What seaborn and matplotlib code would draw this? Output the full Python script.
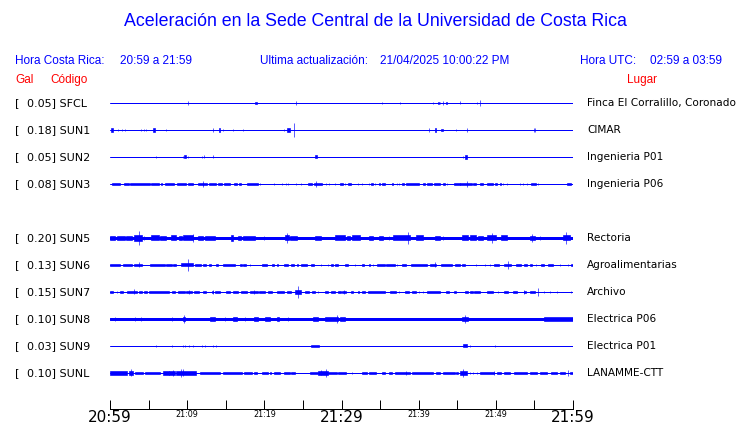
import matplotlib
matplotlib.use("Agg")
import matplotlib.pyplot as plt
import seaborn as sns
import pandas as pd
import numpy as np

# stations, top to bottom (slot 4 is empty: SUN4 not reporting)
stations = ["SFCL", "SUN1", "SUN2", "SUN3", "SUN5", "SUN6", "SUN7", "SUN8", "SUN9", "SUNL"]
slots = [0, 1, 2, 3, 5, 6, 7, 8, 9, 10]
gal = [0.05, 0.18, 0.05, 0.08, 0.20, 0.13, 0.15, 0.10, 0.03, 0.10]
places = ["Finca El Corralillo, Coronado", "CIMAR", "Ingenieria P01", "Ingenieria P06",
          "Rectoria", "Agroalimentarias", "Archivo", "Electrica P06", "Electrica P01",
          "LANAMME-CTT"]
# background noise half-width of each trace
base_noise = [0.5, 0.5, 0.5, 0.5, 1.5, 0.5, 0.5, 1.5, 0.5, 0.5]

# time axis (minutes after 20:59)
tick_minutes = list(range(0, 61, 5))
tick_labels = {0: "20:59", 10: "21:09", 20: "21:19", 30: "21:29", 40: "21:39", 50: "21:49", 60: "21:59"}

# bursts: (start minute, end minute, half amplitude)
sfcl = [(10.1, 10.1, 1.7), (18.8, 19.0, 1.3), (24.1, 24.1, 1.7), (35.3, 35.3, 1), (37.6, 37.6, 1),
        (41.8, 41.8, 1), (42.5, 42.6, 1.3), (42.8, 42.8, 1.3), (43.2, 43.2, 1.7), (43.6, 43.7, 1.3),
        (45.3, 45.3, 1.5), (47.5, 47.5, 1.3), (47.9, 47.9, 2.7)]
sun1 = [(0.1, 0.4, 2.3), (1.1, 1.1, 1), (1.6, 1.6, 1.3), (1.9, 1.9, 1.3), (4.0, 4.0, 1.3), (4.4, 4.4, 1),
        (4.7, 4.7, 1), (5.6, 5.8, 1.7), (7.3, 7.3, 1), (13.4, 13.4, 1.7), (14.1, 14.3, 1.7), (14.7, 14.7, 1),
        (15.9, 15.9, 1.3), (17.3, 17.3, 1.3), (22.6, 22.6, 1.3), (22.9, 23.3, 1.7), (23.8, 23.8, 7),
        (41.4, 41.4, 1.7), (42.1, 42.3, 1.7), (42.9, 43.1, 1.3), (44.9, 44.9, 1), (46.3, 46.3, 1.7),
        (54.9, 54.9, 1.7), (55.1, 55.1, 1.7)]
sun2 = [(6.0, 6.0, 1), (9.4, 9.4, 1), (9.6, 9.8, 1.5), (10.1, 10.1, 1), (11.9, 11.9, 1), (12.2, 12.2, 1.5),
        (13.4, 13.4, 1.5), (26.6, 26.8, 1.5), (45.7, 45.7, 1), (46.0, 46.2, 2)]
sun3 = [(0.2, 1.3, 1.3), (1.8, 2.5, 1.3), (2.6, 5.2, 1.3), (5.3, 6.3, 1.3), (6.6, 6.8, 1.3), (7.1, 8.3, 1.3),
        (8.7, 9.9, 1.3), (10.1, 10.8, 1.3), (11.4, 12.0, 1.3), (12.1, 12.6, 1.3), (12.1, 12.1, 3),
        (12.8, 13.8, 1.3), (14.0, 14.5, 1.3), (14.8, 15.6, 1.3), (16.1, 16.5, 1.3), (16.7, 17.0, 1.3),
        (17.7, 19.2, 1.3), (19.5, 19.5, 1.3), (21.3, 21.3, 1), (22.3, 22.3, 1.3), (22.8, 22.8, 1.3),
        (23.1, 23.1, 1.3), (24.1, 24.1, 1.3), (24.8, 24.8, 1.3), (25.7, 26.2, 1.3), (26.5, 27.5, 1.3),
        (26.7, 26.7, 2.7), (28.0, 28.0, 1.3), (28.4, 28.4, 1.3), (29.1, 29.1, 1.3), (29.8, 30.2, 1.3),
        (30.5, 30.5, 1.3), (30.9, 31.2, 1.3), (32.2, 32.2, 1.3), (32.6, 32.6, 1.3), (33.5, 33.5, 1.3),
        (33.8, 34.1, 1.3), (34.4, 34.4, 1.3), (34.8, 35.0, 1.3), (35.3, 35.6, 1.3), (36.5, 36.7, 1.3),
        (37.2, 37.2, 1.3), (37.5, 37.5, 1.3), (37.8, 38.1, 1.3), (38.4, 40.0, 1.3), (40.5, 40.8, 1.3),
        (41.1, 41.7, 1.3), (42.0, 42.8, 1.3), (43.2, 43.4, 1.3), (43.7, 43.7, 1.3), (44.6, 45.4, 1.3),
        (45.4, 46.9, 1.3), (46.2, 46.2, 3.3), (47.1, 47.4, 1.3), (47.9, 48.4, 1.3), (48.9, 49.6, 1.3),
        (49.9, 50.1, 1.3), (50.5, 50.7, 1.3), (50.9, 50.9, 1.3), (51.5, 51.5, 1), (53.1, 53.1, 1),
        (53.5, 53.5, 1.3), (54.0, 54.0, 1), (54.6, 55.2, 1.3), (55.4, 55.5, 1.3), (59.2, 59.7, 1.3),
        (60.0, 60.0, 1)]
sun5 = [(0.0, 0.6, 2.3), (0.9, 1.9, 2), (2.1, 2.8, 2), (3.1, 4.1, 2.7), (3.8, 3.8, 7), (4.4, 4.4, 2.3),
        (5.3, 6.3, 2.5), (6.5, 7.3, 2), (7.9, 8.5, 2.5), (8.9, 9.3, 2), (9.5, 10.8, 2.5), (10.7, 10.7, 4),
        (11.4, 12.1, 2), (12.3, 13.6, 2), (15.7, 16.0, 2.7), (16.6, 17.0, 2), (17.3, 18.8, 2), (20.0, 20.0, 2.3),
        (22.7, 23.2, 2.5), (22.9, 22.9, 5), (23.3, 24.2, 2.3), (26.6, 27.4, 2.3), (29.2, 30.5, 2.5),
        (30.7, 31.1, 2.3), (31.4, 32.4, 2.5), (33.6, 34.1, 2.3), (34.9, 35.4, 2.3), (36.1, 36.1, 2.3),
        (36.7, 38.9, 2.5), (38.6, 38.6, 6), (39.7, 40.6, 2.5), (42.1, 42.8, 2.3), (43.2, 43.2, 2.3),
        (45.6, 46.4, 2.5), (46.7, 47.4, 2.5), (47.7, 48.4, 2.3), (48.8, 50.0, 2.5), (49.5, 49.5, 5),
        (50.7, 51.4, 2.5), (54.4, 55.1, 2.3), (54.7, 54.7, 4), (55.7, 55.7, 2.3), (58.7, 59.6, 2.5),
        (59.1, 59.1, 6)]
sun6 = [(0.0, 1.3, 1.3), (1.7, 2.8, 1.3), (3.1, 4.1, 1.3), (3.8, 3.8, 2.5), (5.2, 7.1, 1.3), (7.3, 8.0, 1.3),
        (8.2, 8.5, 1.3), (9.2, 10.7, 1.5), (10.1, 10.1, 6), (11.0, 11.8, 1.3), (12.0, 12.5, 1.3),
        (12.8, 13.1, 1.3), (13.8, 14.0, 1.3), (14.7, 16.2, 1.3), (16.8, 17.1, 1.3), (17.3, 17.6, 1.3),
        (18.1, 18.2, 1.3), (19.7, 20.3, 1.3), (21.0, 21.2, 1.3), (21.6, 21.8, 1.3), (22.5, 23.1, 1.3),
        (23.5, 23.8, 1.3), (24.2, 24.4, 1.3), (24.8, 25.5, 1.3), (26.1, 26.5, 1.3), (27.4, 27.4, 1.3),
        (28.3, 28.3, 1.3), (28.7, 28.9, 1.3), (29.2, 29.6, 1.3), (30.5, 30.9, 1.3), (31.7, 31.7, 1.3),
        (32.6, 32.9, 1.3), (33.5, 33.7, 1.3), (34.1, 34.1, 1.3), (34.6, 35.6, 1.3), (35.8, 36.9, 1.3),
        (37.2, 37.2, 1.3), (37.8, 38.4, 1.3), (39.0, 41.1, 1.3), (41.5, 42.3, 1.3), (42.1, 42.1, 2.5),
        (42.9, 44.3, 1.3), (44.7, 45.3, 1.3), (45.6, 46.0, 1.3), (47.4, 47.4, 1), (48.6, 48.6, 1),
        (49.2, 49.2, 1.3), (49.8, 50.4, 1.3), (51.1, 52.0, 1.3), (51.6, 51.6, 4), (52.6, 53.3, 1.3),
        (53.7, 54.0, 1.3), (54.4, 54.7, 1.3), (55.2, 55.2, 1.3), (55.9, 56.2, 1.3), (56.7, 57.4, 1.3),
        (58.3, 58.3, 1.3), (59.3, 59.3, 1.3), (59.8, 60.0, 1.3)]
sun7 = [(0.0, 0.4, 1.3), (0.9, 0.9, 1.3), (1.3, 1.7, 1.3), (2.2, 3.5, 1.3), (3.1, 3.1, 2.5), (3.8, 4.2, 1.3),
        (4.4, 4.8, 1.3), (5.1, 7.6, 1.3), (8.0, 8.4, 1.3), (8.8, 9.7, 1.3), (9.8, 10.6, 1.3), (10.2, 10.2, 2),
        (10.9, 11.5, 1.3), (12.0, 12.5, 1.3), (13.2, 13.4, 1.3), (13.3, 13.3, 2), (13.6, 14.3, 1.3),
        (15.0, 15.6, 1.3), (16.0, 16.6, 1.3), (17.0, 17.7, 1.3), (18.1, 19.2, 1.3), (18.6, 18.6, 2),
        (19.3, 20.1, 1.3), (20.5, 21.0, 1.3), (21.6, 22.5, 1.3), (22.9, 23.5, 1.3), (24.0, 24.8, 1.7),
        (24.4, 24.4, 6), (25.3, 25.8, 1.3), (26.2, 26.6, 1.3), (27.0, 27.0, 1.3), (27.9, 28.2, 1.3),
        (28.6, 29.2, 1.3), (29.6, 29.9, 1.3), (30.0, 30.6, 1.3), (30.3, 30.3, 2), (31.2, 31.5, 1.3),
        (32.1, 32.3, 1.3), (32.6, 33.0, 1.3), (33.4, 35.6, 1.3), (36.3, 37.1, 1.3), (37.5, 37.5, 1.3),
        (38.2, 38.8, 1.3), (39.1, 39.7, 1.3), (40.0, 40.0, 1.3), (40.6, 40.6, 1.3), (41.1, 42.8, 1.3),
        (43.5, 43.9, 1.3), (44.6, 44.9, 1.3), (46.0, 46.4, 1.3), (46.7, 47.0, 1.3), (47.2, 47.9, 1.3),
        (48.8, 49.6, 1.3), (50.3, 50.3, 1.3), (51.1, 51.6, 1.3), (52.2, 52.8, 1.3), (53.6, 53.9, 1.3),
        (53.7, 53.7, 2), (54.4, 55.1, 1.3), (55.4, 55.4, 4), (56.2, 56.2, 1), (57.0, 57.0, 1),
        (57.9, 57.9, 1), (59.8, 59.8, 1.3)]
sun8 = [(0.7, 0.7, 2.3), (3.3, 3.3, 2.3), (4.0, 4.0, 2.3), (8.0, 8.0, 2.3), (9.5, 9.7, 2), (9.6, 9.6, 3.7),
        (13.0, 13.6, 2.3), (14.9, 14.9, 2.3), (15.9, 16.4, 2), (17.5, 17.5, 2.3), (18.7, 19.2, 2.3),
        (20.1, 20.7, 2), (21.7, 21.9, 2), (23.1, 23.1, 2.3), (26.3, 27.0, 2), (27.9, 29.6, 2.3),
        (29.4, 29.4, 3.7), (29.8, 30.5, 2), (45.6, 46.4, 2.3), (46.0, 46.0, 4.3), (56.2, 60.0, 1.8)]
sun9 = [(6.0, 6.0, 1), (8.0, 8.0, 1.3), (9.4, 9.4, 1.3), (9.7, 9.7, 1.3), (10.3, 10.3, 1), (10.8, 10.8, 1),
        (11.9, 11.9, 1), (12.3, 12.3, 1), (13.4, 13.4, 1), (13.8, 13.8, 1), (26.1, 27.1, 1.3),
        (45.7, 46.3, 1.5), (46.7, 46.7, 1), (49.9, 49.9, 1.3)]
sunl = [(0.0, 2.2, 1.7), (2.5, 3.0, 1.7), (2.7, 2.7, 3.5), (3.2, 4.3, 1.3), (4.5, 6.5, 1.3), (6.9, 7.6, 2),
        (7.7, 8.4, 1.7), (8.2, 8.2, 3), (8.6, 11.2, 2), (9.2, 9.2, 4.3), (9.5, 9.5, 3.5), (11.6, 14.3, 1.3),
        (14.6, 17.1, 1.3), (17.4, 18.4, 1.3), (18.6, 19.0, 1.3), (19.7, 20.5, 1.3), (20.7, 20.9, 1.3),
        (21.3, 22.0, 1.3), (22.5, 23.3, 1.3), (23.5, 24.0, 1.3), (25.9, 27.0, 1.3), (27.0, 28.2, 1.7),
        (27.3, 27.3, 2.5), (28.0, 28.0, 4), (28.3, 29.4, 1.3), (29.6, 30.6, 1.3), (31.3, 31.3, 1.3),
        (32.6, 33.3, 1.3), (33.5, 34.5, 1.3), (35.2, 35.6, 1.3), (36.2, 36.6, 1.3), (36.9, 38.9, 1.3),
        (38.4, 38.4, 2), (39.1, 41.9, 1.3), (42.3, 42.8, 1.3), (43.1, 44.7, 1.3), (44.9, 45.1, 1.3),
        (45.4, 46.3, 2.3), (45.8, 45.8, 4), (46.7, 46.7, 1.3), (47.1, 47.1, 1.3), (47.6, 47.6, 1.3),
        (47.9, 49.7, 1.3), (49.7, 49.7, 2), (50.1, 50.7, 1.3), (51.1, 51.8, 1.3), (52.3, 54.0, 1.3),
        (54.4, 55.3, 1.3), (55.7, 56.6, 1.3), (57.1, 57.9, 1.3), (58.3, 59.0, 1.3), (59.3, 59.3, 2.7),
        (59.6, 60.0, 1.3)]
bursts = [sfcl, sun1, sun2, sun3, sun5, sun6, sun7, sun8, sun9, sunl]

BLUE = "#0000ff"
RED = "#ff0000"
W, H = 740, 423
PX = 72 / 100  # one pixel in points

sns.set_style("white")
plt.rcParams["font.family"] = ["DejaVu Sans"]

fig = plt.figure(figsize=(W / 100, H / 100), dpi=100)
ax = fig.add_axes([110 / W, 0, 463 / W, 1])

# trace rows in pixel units (row 0 at y=103, 27 px apart)
offsets = [103 + 27 * s for s in slots]

for name, off, base, ev in zip(stations, offsets, base_noise, bursts):
    line_df = pd.DataFrame({"minute": [0, 60], "y": [off, off]})
    sns.lineplot(data=line_df, x="minute", y="y", color=BLUE, lw=2 * base * PX, ax=ax)
    ev = np.array(ev)
    ax.bar(ev[:, 0], 2 * ev[:, 2], width=ev[:, 1] - ev[:, 0], bottom=off - ev[:, 2],
           align="edge", color=BLUE, edgecolor=BLUE, linewidth=0.45)

ax.set_xlim(0, 60)
ax.set_ylim(H, 0)
ax.set_xlabel("")
ax.set_ylabel("")
for s in ["top", "left", "right"]:
    ax.spines[s].set_visible(False)
ax.spines["bottom"].set_visible(True)
ax.spines["bottom"].set_position(("data", 409))
ax.spines["bottom"].set_linewidth(PX)
ax.spines["bottom"].set_color("black")
ax.spines["bottom"].set_zorder(5)
ax.axhline(409, color="black", lw=PX, zorder=5)
ax.set_yticks([])
ax.set_xticks(tick_minutes)
ax.set_xticklabels([tick_labels.get(m, "") for m in tick_minutes])
ax.tick_params(axis="x", bottom=True, direction="in", length=9 * PX, width=PX,
               color="black", pad=1)
for lab, m in zip(ax.get_xticklabels(), tick_minutes):
    lab.set_fontsize(11 if m in (0, 30, 60) else 5.8)
    lab.set_color("black")
ax.patch.set_alpha(0)


def put(x, y, s, **kw):
    fig.text(x / W, 1 - y / H, s, va="center", **kw)


head = ["Liberation Sans", "DejaVu Sans"]
put(375, 22, "Aceleración en la Sede Central de la Universidad de Costa Rica",
    ha="center", color=BLUE, fontsize=12.8, family=head)
put(15, 61, "Hora Costa Rica:", color=BLUE, fontsize=8.5, family=head)
put(120, 61, "20:59 a 21:59", color=BLUE, fontsize=8.5, family=head)
put(260, 61, "Ultima actualización:", color=BLUE, fontsize=8.5, family=head)
put(380, 61, "21/04/2025 10:00:22 PM", color=BLUE, fontsize=8.5, family=head)
put(580, 61, "Hora UTC:", color=BLUE, fontsize=8.5, family=head)
put(650, 61, "02:59 a 03:59", color=BLUE, fontsize=8.5, family=head)
put(15, 80, "Gal", color=RED, fontsize=8.5, family=head)
put(50, 80, "Código", color=RED, fontsize=8.5, family=head)
put(627, 80, "Lugar", color=RED, fontsize=8.5, family=head)

for off, g, name, place in zip(offsets, gal, stations, places):
    put(15, off, "[", fontsize=8, color="black")
    put(27, off, f"{g:.2f}] {name}", fontsize=8, color="black")
    put(587, off, place, fontsize=7.6, color="black")

fig.savefig("out.png", dpi=100)
